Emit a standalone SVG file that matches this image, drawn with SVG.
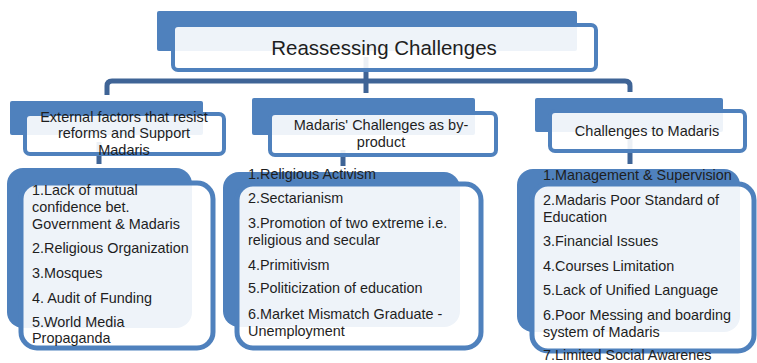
<svg xmlns="http://www.w3.org/2000/svg" width="757" height="363" viewBox="0 0 757 363">
<style>
.back{fill:#4F81BD;}
.frame{fill:#FFFFFF;fill-opacity:0.9;stroke:#4F81BD;stroke-width:4;}
.lframe{fill:#FFFFFF;fill-opacity:0.9;stroke:#4F81BD;stroke-width:5;}
.conn{fill:none;stroke:#3F6496;stroke-width:5;stroke-linecap:butt;stroke-linejoin:round;}
text{font-family:"Liberation Sans",Arial,sans-serif;fill:#1E1E1E;}
.t{font-size:20.5px;text-anchor:middle;}
.h{font-size:14.5px;text-anchor:middle;}
.l{font-size:14.4px;}
</style>
<g id="backs">
<rect class="back" x="157" y="11" width="420" height="40" rx="2"/>
<rect class="back" x="10" y="101" width="193" height="34" rx="2"/>
<rect class="back" x="252" y="98" width="223" height="37" rx="2"/>
<rect class="back" x="535" y="98" width="188" height="34" rx="2"/>
<rect class="back" x="7" y="168" width="185" height="160" rx="16"/>
<rect class="back" x="223" y="172" width="237" height="155" rx="16"/>
<rect class="back" x="517" y="169" width="223" height="163" rx="16"/>
</g>
<g id="connectors">
<path class="conn" d="M366,57 V93"/>
<path class="conn" d="M107,95 V86 Q107,81 112,81 H625 Q630,81 630,86 V92"/>
<path class="conn" d="M99,142 V164"/>
<path class="conn" d="M343,150 V166"/>
<path class="conn" d="M630,139 V164"/>
</g>
<g id="n-top">
<rect class="frame" x="173" y="25" width="423" height="45" rx="5"/>
<text class="t" x="384" y="55">Reassessing Challenges</text>
</g>
<g id="n-external">
<rect class="frame" x="25" y="114" width="199" height="40" rx="5"/>
<text class="h" x="124" y="122">External factors that resist</text>
<text class="h" x="124" y="138">reforms and Support</text>
<text class="h" x="124" y="155">Madaris</text>
</g>
<g id="n-byproduct">
<rect class="frame" x="270" y="113" width="226" height="42" rx="5"/>
<text class="h" x="381" y="130">Madaris' Challenges as by-</text>
<text class="h" x="381" y="147">product</text>
</g>
<g id="n-challenges">
<rect class="frame" x="550" y="111" width="195" height="40" rx="5"/>
<text class="h" x="647" y="136">Challenges to Madaris</text>
</g>
<g id="n-list-external">
<rect class="lframe" x="21" y="183" width="192" height="165" rx="16"/>
<text class="l" x="32" y="195">1.Lack of mutual</text>
<text class="l" x="32" y="212">confidence bet.</text>
<text class="l" x="32" y="229">Government &amp; Madaris</text>
<text class="l" x="32" y="253">2.Religious Organization</text>
<text class="l" x="32" y="278">3.Mosques</text>
<text class="l" x="32" y="303">4. Audit of Funding</text>
<text class="l" x="32" y="327">5.World Media</text>
<text class="l" x="32" y="343">Propaganda</text>
</g>
<g id="n-list-byproduct">
<rect class="lframe" x="237" y="184" width="244" height="164" rx="16"/>
<text class="l" x="248" y="179">1.Religious Activism</text>
<text class="l" x="248" y="203">2.Sectarianism</text>
<text class="l" x="248" y="228">3.Promotion of two extreme i.e.</text>
<text class="l" x="248" y="245">religious and secular</text>
<text class="l" x="248" y="270">4.Primitivism</text>
<text class="l" x="248" y="293">5.Politicization of education</text>
<text class="l" x="248" y="319">6.Market Mismatch Graduate -</text>
<text class="l" x="248" y="336">Unemployment</text>
</g>
<g id="n-list-challenges">
<rect class="lframe" x="532" y="184" width="222" height="167" rx="16"/>
<text class="l" x="543" y="180">1.Management &amp; Supervision</text>
<text class="l" x="543" y="205">2.Madaris Poor Standard of</text>
<text class="l" x="543" y="222">Education</text>
<text class="l" x="543" y="246">3.Financial Issues</text>
<text class="l" x="543" y="271">4.Courses Limitation</text>
<text class="l" x="543" y="295">5.Lack of Unified Language</text>
<text class="l" x="543" y="320">6.Poor Messing and boarding</text>
<text class="l" x="543" y="337">system of Madaris</text>
<text class="l" x="543" y="360">7.Limited Social Awarenes</text>
</g>
</svg>
